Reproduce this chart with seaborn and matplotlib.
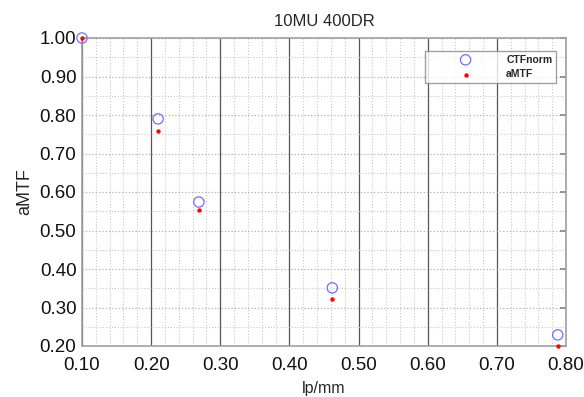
import seaborn as sns
import matplotlib.pyplot as plt
import pandas as pd
import numpy as np
from matplotlib.ticker import MultipleLocator

# Datos
lp_mm = [0.100, 0.210, 0.269, 0.462, 0.788]
ctf_norm = [1.000, 0.790, 0.574, 0.351, 0.229]
amtf = [1.000, 0.758, 0.553, 0.322, 0.201]

df = pd.DataFrame({"lp/mm": lp_mm, "CTFnorm": ctf_norm, "aMTF": amtf})

sns.set_theme(style="white")
plt.rcParams['font.family'] = ['Liberation Sans', 'DejaVu Sans']

fig = plt.figure(figsize=(5.84, 3.97), dpi=100)
ax = fig.add_axes([82 / 584, 1 - 346 / 397, 484 / 584, 308 / 397])

sns.scatterplot(data=df, x="lp/mm", y="CTFnorm", ax=ax, marker="o", s=55,
                facecolor="none", edgecolor="#6f6fff", linewidth=0.9,
                label="CTFnorm", clip_on=False, zorder=3)
sns.scatterplot(data=df, x="lp/mm", y="aMTF", ax=ax, marker="o", s=10,
                color="red", edgecolor="red", linewidth=0,
                label="aMTF", clip_on=False, zorder=4)

ax.set_xlim(0.10, 0.80)
ax.set_ylim(0.20, 1.00)
ax.xaxis.set_major_locator(MultipleLocator(0.1))
ax.xaxis.set_minor_locator(MultipleLocator(0.02))
ax.yaxis.set_major_locator(MultipleLocator(0.1))
ax.yaxis.set_minor_locator(MultipleLocator(0.05))
ax.xaxis.set_major_formatter(plt.FormatStrFormatter("%.2f"))
ax.yaxis.set_major_formatter(plt.FormatStrFormatter("%.2f"))

# Cuadricula
ax.grid(which="minor", axis="both", color="#c8c8c8", linestyle=":", linewidth=0.8)
ax.grid(which="major", axis="y", color="#b0b0b0", linestyle=":", linewidth=0.9)
ax.grid(which="major", axis="x", color="#555555", linestyle="-", linewidth=0.9)
ax.set_axisbelow(True)

for sp in ax.spines.values():
    sp.set_color("#a0a0a0")
    sp.set_linewidth(1.2)

ax.tick_params(axis="both", which="major", labelsize=13.5, length=0, pad=4,
               colors="#111111")
ax.tick_params(axis="x", which="major", pad=8)
ax.tick_params(axis="y", which="major", right=True, length=4, direction="in",
               color="#888888")
ax.tick_params(which="minor", length=0)

ax.set_title("10MU 400DR", fontsize=12, pad=9)
ax.set_xlabel("lp/mm", fontsize=11.5, labelpad=5)
ax.set_ylabel("aMTF", fontsize=13, labelpad=5)

leg = ax.legend(loc="upper right", bbox_to_anchor=(0.99, 0.975), fontsize=7.5,
                frameon=True, fancybox=False, edgecolor="#888888",
                markerfirst=True, handlelength=7, handletextpad=0.4,
                borderpad=0.35, labelspacing=0.45)
for t in leg.get_texts():
    t.set_fontweight("bold")

fig.savefig("out.png", dpi=100)
